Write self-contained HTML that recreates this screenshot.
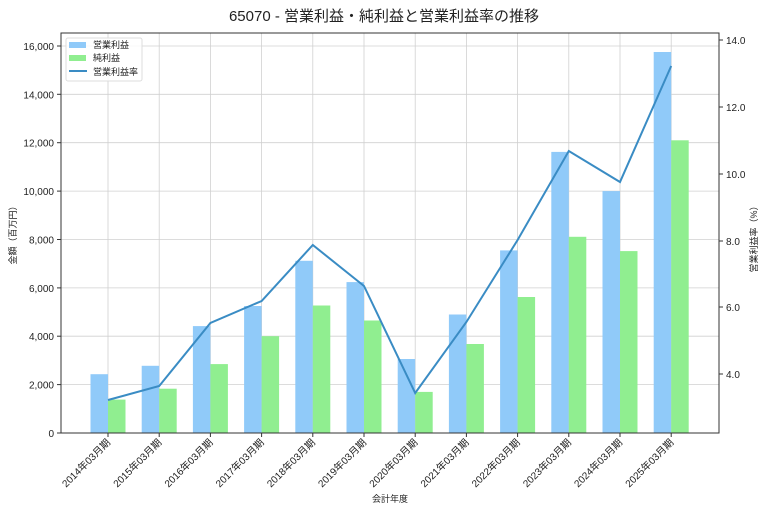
<!DOCTYPE html>
<html><head><meta charset="utf-8"><style>
body{margin:0;background:#fff}
svg text{font-family:"Liberation Sans","Noto Sans CJK JP",sans-serif;fill:#222}
</style></head><body>
<svg width="768" height="512" viewBox="0 0 768 512">
<text x="384" y="21" font-size="15" text-anchor="middle">65070 - 営業利益・純利益と営業利益率の推移</text>
<g stroke="#d0d0d0" stroke-width="0.8">
<line x1="61" x2="719" y1="384.6" y2="384.6"/><line x1="61" x2="719" y1="336.2" y2="336.2"/>
<line x1="61" x2="719" y1="287.9" y2="287.9"/><line x1="61" x2="719" y1="239.5" y2="239.5"/>
<line x1="61" x2="719" y1="191.1" y2="191.1"/><line x1="61" x2="719" y1="142.7" y2="142.7"/>
<line x1="61" x2="719" y1="94.3" y2="94.3"/><line x1="61" x2="719" y1="46" y2="46"/>
<line y1="33" y2="433" x1="108" x2="108"/><line y1="33" y2="433" x1="159.2" x2="159.2"/>
<line y1="33" y2="433" x1="210.4" x2="210.4"/><line y1="33" y2="433" x1="261.6" x2="261.6"/>
<line y1="33" y2="433" x1="312.8" x2="312.8"/><line y1="33" y2="433" x1="364" x2="364"/>
<line y1="33" y2="433" x1="415.2" x2="415.2"/><line y1="33" y2="433" x1="466.4" x2="466.4"/>
<line y1="33" y2="433" x1="517.6" x2="517.6"/><line y1="33" y2="433" x1="568.8" x2="568.8"/>
<line y1="33" y2="433" x1="620" x2="620"/><line y1="33" y2="433" x1="671.2" x2="671.2"/>
</g>
<g fill="#90caf9">
<rect x="90.5" y="374.2" width="17.5" height="58.8"/><rect x="141.7" y="365.8" width="17.5" height="67.2"/>
<rect x="192.9" y="326.1" width="17.5" height="106.9"/><rect x="244.1" y="306" width="17.5" height="127"/>
<rect x="295.3" y="260.8" width="17.5" height="172.2"/><rect x="346.5" y="282.1" width="17.5" height="150.9"/>
<rect x="397.7" y="359" width="17.5" height="74"/><rect x="448.9" y="314.5" width="17.5" height="118.5"/>
<rect x="500.1" y="250.4" width="17.5" height="182.6"/><rect x="551.3" y="151.9" width="17.5" height="281.1"/>
<rect x="602.5" y="191.1" width="17.5" height="241.9"/><rect x="653.7" y="52" width="17.5" height="381"/>
</g>
<g fill="#90ee90">
<rect x="108" y="399.6" width="17.5" height="33.4"/><rect x="159.2" y="388.7" width="17.5" height="44.3"/>
<rect x="210.4" y="364.1" width="17.5" height="68.9"/><rect x="261.6" y="336.2" width="17.5" height="96.8"/>
<rect x="312.8" y="305.5" width="17.5" height="127.5"/><rect x="364" y="320.5" width="17.5" height="112.5"/>
<rect x="415.2" y="391.9" width="17.5" height="41.1"/><rect x="466.4" y="344" width="17.5" height="89"/>
<rect x="517.6" y="297" width="17.5" height="136"/><rect x="568.8" y="236.8" width="17.5" height="196.2"/>
<rect x="620" y="251.1" width="17.5" height="181.9"/><rect x="671.2" y="140.3" width="17.5" height="292.7"/>
</g>
<polyline fill="none" stroke="#3a8cc4" stroke-width="2" points="108,400 159.2,386 210.4,323 261.6,301 312.8,245 364,286 415.2,393 466.4,322 517.6,240 568.8,151 620,182 671.2,66"/>
<rect x="61" y="33" width="658" height="400" fill="none" stroke="#333" stroke-width="1"/>
<g stroke="#333" stroke-width="1">
<line x1="57" x2="61" y1="433" y2="433"/><line x1="57" x2="61" y1="384.6" y2="384.6"/><line x1="57" x2="61" y1="336.2" y2="336.2"/>
<line x1="57" x2="61" y1="287.9" y2="287.9"/><line x1="57" x2="61" y1="239.5" y2="239.5"/><line x1="57" x2="61" y1="191.1" y2="191.1"/>
<line x1="57" x2="61" y1="142.7" y2="142.7"/><line x1="57" x2="61" y1="94.3" y2="94.3"/><line x1="57" x2="61" y1="46" y2="46"/>
<line x1="719" x2="723" y1="40" y2="40"/><line x1="719" x2="723" y1="107" y2="107"/><line x1="719" x2="723" y1="174" y2="174"/>
<line x1="719" x2="723" y1="241" y2="241"/><line x1="719" x2="723" y1="307" y2="307"/><line x1="719" x2="723" y1="374" y2="374"/>
<line y1="433" y2="437" x1="108" x2="108"/><line y1="433" y2="437" x1="159.2" x2="159.2"/><line y1="433" y2="437" x1="210.4" x2="210.4"/>
<line y1="433" y2="437" x1="261.6" x2="261.6"/><line y1="433" y2="437" x1="312.8" x2="312.8"/><line y1="433" y2="437" x1="364" x2="364"/>
<line y1="433" y2="437" x1="415.2" x2="415.2"/><line y1="433" y2="437" x1="466.4" x2="466.4"/><line y1="433" y2="437" x1="517.6" x2="517.6"/>
<line y1="433" y2="437" x1="568.8" x2="568.8"/><line y1="433" y2="437" x1="620" x2="620"/><line y1="433" y2="437" x1="671.2" x2="671.2"/>
</g>
<g font-size="10" text-anchor="end">
<text x="54" y="437">0</text><text x="54" y="388.6">2,000</text><text x="54" y="340.2">4,000</text>
<text x="54" y="291.9">6,000</text><text x="54" y="243.5">8,000</text><text x="54" y="195.1">10,000</text>
<text x="54" y="146.7">12,000</text><text x="54" y="98.3">14,000</text><text x="54" y="50">16,000</text>
</g>
<g font-size="10">
<text x="726" y="44">14.0</text><text x="726" y="111">12.0</text><text x="726" y="178">10.0</text>
<text x="726" y="245">8.0</text><text x="726" y="311">6.0</text><text x="726" y="378">4.0</text>
</g>
<g font-size="10" text-anchor="end">
<text transform="translate(111,443) rotate(-45)">2014年03月期</text>
<text transform="translate(162.2,443) rotate(-45)">2015年03月期</text>
<text transform="translate(213.4,443) rotate(-45)">2016年03月期</text>
<text transform="translate(264.6,443) rotate(-45)">2017年03月期</text>
<text transform="translate(315.8,443) rotate(-45)">2018年03月期</text>
<text transform="translate(367,443) rotate(-45)">2019年03月期</text>
<text transform="translate(418.2,443) rotate(-45)">2020年03月期</text>
<text transform="translate(469.4,443) rotate(-45)">2021年03月期</text>
<text transform="translate(520.6,443) rotate(-45)">2022年03月期</text>
<text transform="translate(571.8,443) rotate(-45)">2023年03月期</text>
<text transform="translate(623,443) rotate(-45)">2024年03月期</text>
<text transform="translate(674.2,443) rotate(-45)">2025年03月期</text>
</g>
<text x="390" y="502" font-size="9" text-anchor="middle">会計年度</text>
<text transform="translate(16,233) rotate(-90)" font-size="9" text-anchor="middle">金額（百万円）</text>
<text transform="translate(757,237) rotate(-90)" font-size="9" text-anchor="middle">営業利益率（%）</text>
<rect x="66" y="38" width="76" height="43" fill="#fff" fill-opacity="0.85" stroke="#ddd" rx="2"/>
<rect x="69" y="42" width="17" height="6" fill="#90caf9"/>
<rect x="69" y="55" width="17" height="6" fill="#90ee90"/>
<line x1="69" x2="87" y1="71" y2="71" stroke="#3a8cc4" stroke-width="2"/>
<g font-size="9"><text x="93" y="48">営業利益</text><text x="93" y="61">純利益</text><text x="93" y="75">営業利益率</text></g>
</svg>
</body></html>
